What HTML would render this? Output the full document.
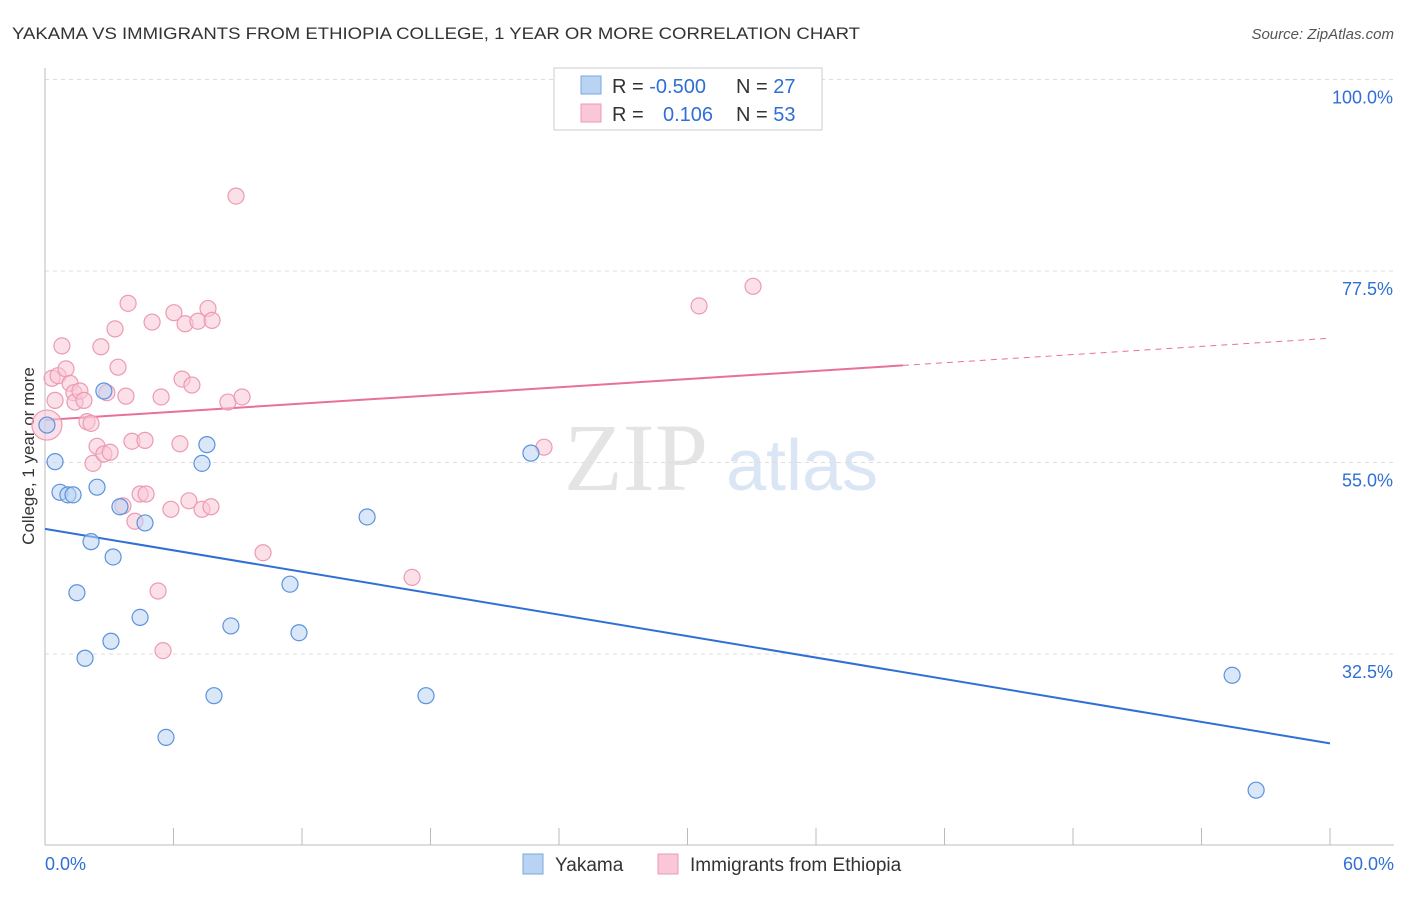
<!DOCTYPE html>
<html><head><meta charset="utf-8"><style>
body{margin:0;background:#fff;font-family:"Liberation Sans",sans-serif;}
</style></head><body>
<svg width="1406" height="892" xmlns="http://www.w3.org/2000/svg" id="svg" font-family="Liberation Sans, sans-serif">
<text x="12" y="39" font-size="17" fill="#333" textLength="848" lengthAdjust="spacingAndGlyphs">YAKAMA VS IMMIGRANTS FROM ETHIOPIA COLLEGE, 1 YEAR OR MORE CORRELATION CHART</text>
<text x="1394" y="39" font-size="15" fill="#555" font-style="italic" text-anchor="end">Source: ZipAtlas.com</text>
<text x="34" y="456" font-size="17" fill="#333" text-anchor="middle" transform="rotate(-90 34 456)">College, 1 year or more</text>
<g><text x="636" y="490" font-size="96" fill="#e4e4e4" font-family="Liberation Serif, serif" text-anchor="middle">ZIP</text><text x="802" y="490" font-size="72" fill="#dbe6f5" text-anchor="middle">atlas</text></g>
<g id="grid"></g><g id="lines"></g><g id="pts"></g>
<g>
<rect x="554" y="68" width="268" height="62" fill="#fff" stroke="#ccc"/>
<rect x="581" y="76" width="20" height="18" fill="#b9d3f3" stroke="#7aa7e0"/>
<rect x="581" y="104" width="20" height="18" fill="#f9c7d6" stroke="#ec9ab5"/>
<text x="612" y="93" font-size="20" fill="#333">R = <tspan fill="#2f6fd6">-0.500</tspan></text>
<text x="736" y="93" font-size="20" fill="#333">N = <tspan fill="#2f6fd6">27</tspan></text>
<text x="612" y="121" font-size="20" fill="#333">R = <tspan fill="#2f6fd6" x="663">0.106</tspan></text>
<text x="736" y="121" font-size="20" fill="#333">N = <tspan fill="#2f6fd6">53</tspan></text>
</g>
<g>
<rect x="523" y="854" width="20" height="20" fill="#b9d3f3" stroke="#7aa7e0"/>
<text x="555" y="871" font-size="19" fill="#333">Yakama</text>
<rect x="658" y="854" width="20" height="20" fill="#f9c7d6" stroke="#ec9ab5"/>
<text x="690" y="871" font-size="19" fill="#333">Immigrants from Ethiopia</text>
</g>
</svg>
<script>
const yTicks=[100,77.5,55,32.5];
const xLabels=["0.0%","60.0%"];
const blueX=[0.09,0.47,0.70,1.07,1.31,2.43,1.49,1.87,2.15,2.75,3.18,3.08,3.50,4.44,4.67,5.65,7.33,7.56,7.89,8.68,11.44,11.86,15.04,17.79,22.69,55.43,56.55];
const blueY=[59.4,55.1,51.5,51.2,51.2,52.1,39.7,32.0,45.7,63.4,43.9,34.0,49.8,36.8,47.9,22.7,54.9,57.1,27.6,35.8,40.7,35.0,48.6,27.6,56.1,30.0,16.5];
const pinkX=[0.33,0.47,0.61,0.79,0.98,1.17,1.35,1.40,1.63,1.82,1.96,2.15,2.24,2.43,2.61,2.75,3.04,2.89,3.27,3.41,3.64,3.78,3.88,4.06,4.20,4.44,4.67,4.72,5.00,5.28,5.42,5.51,5.88,6.02,6.30,6.40,6.54,6.72,6.86,7.14,7.33,7.61,7.75,7.80,8.54,8.92,9.20,10.18,17.14,23.30,30.54,33.06];
const pinkY=[64.9,62.3,65.2,68.7,66.0,64.3,63.2,62.1,63.4,62.3,59.8,59.6,54.9,56.9,68.6,56.0,56.2,63.2,70.7,66.2,49.9,62.8,73.7,57.5,48.1,51.3,57.6,51.3,71.5,39.9,62.7,32.9,49.5,72.6,57.2,64.8,71.3,50.5,64.1,71.6,49.5,73.1,49.8,71.7,62.1,86.3,62.7,44.4,41.5,56.8,73.4,75.7];
const bigPink=[0.09,59.4];
const blueTrend=[47.2,22.0];
const pinkTrend=[60.0,69.6];
const pinkSolidEnd=40.06;
const X=v=>45+v/60*1285, Y=v=>79.5+(100-v)/22.5*191.5;
const NS="http://www.w3.org/2000/svg";
function mk(p,t,a){const e=document.createElementNS(NS,t);for(const k in a)e.setAttribute(k,a[k]);document.getElementById(p).appendChild(e);return e;}
yTicks.forEach(t=>{
 const l=mk('grid','line',{x1:45,x2:1394,y1:Y(t),y2:Y(t),stroke:'#ddd','stroke-dasharray':'4 4'});
 
 
 const tx=mk('grid','text',{x:1393,y:Y(t)+24,'font-size':18,fill:'#2f6fd6','text-anchor':'end'});tx.textContent=t.toFixed(1)+'%';
 
 
});
let ax=mk('grid','line',{x1:45,x2:45,y1:68,y2:845,stroke:'#bbb'});


ax=mk('grid','line',{x1:45,x2:1394,y1:845,y2:845,stroke:'#bbb'});


for(let i=0;i<=10;i++){const t=mk('grid','line',{x1:X(i*6),x2:X(i*6),y1:828,y2:845,stroke:'#bbb'});
 
 }
[[0,'start',45],[1,'end',1394]].forEach(([i,a,x])=>{const t=mk('grid','text',{x:x,y:870,'font-size':18,fill:'#2f6fd6','text-anchor':a});t.textContent=xLabels[i];
 
 });
function dot(x,y,r,f,s,n){const c=mk('pts','circle',{cx:X(x),cy:Y(y),r:r,fill:f,'fill-opacity':0.55,stroke:s,'stroke-width':1.2});
 
 }
dot(bigPink[0],bigPink[1],15,'#f9c7d6','#ec9ab5','point-ethiopia');
pinkX.forEach((x,i)=>dot(x,pinkY[i],8,'#f9c7d6','#ec9ab5','point-ethiopia'));
blueX.forEach((x,i)=>dot(x,blueY[i],8,'#b9d3f3','#5b93dc','point-yakama'));
let l=mk('lines','line',{x1:X(0),y1:Y(blueTrend[0]),x2:X(60),y2:Y(blueTrend[1]),stroke:'#2f6fd6','stroke-width':2});


const py=x=>pinkTrend[0]+(pinkTrend[1]-pinkTrend[0])*x/60;
l=mk('lines','line',{x1:X(0),y1:Y(py(0)),x2:X(pinkSolidEnd),y2:Y(py(pinkSolidEnd)),stroke:'#e8709a','stroke-width':2});


l=mk('lines','line',{x1:X(pinkSolidEnd),y1:Y(py(pinkSolidEnd)),x2:X(60),y2:Y(py(60)),stroke:'#e8709a','stroke-width':1,'stroke-dasharray':'6 5'});


</script>
</body></html>
